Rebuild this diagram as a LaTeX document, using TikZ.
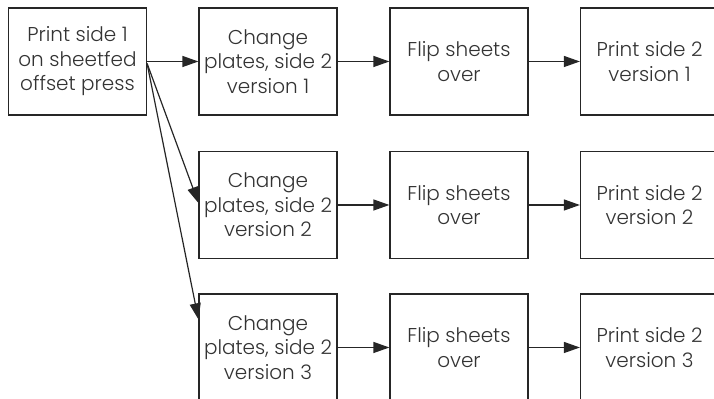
\documentclass[tikz,border=0pt]{standalone}
\usepackage{fontspec}
\setmainfont{Poppins}[UprightFont=* Light]
\usetikzlibrary{arrows.meta,calc}
\begin{document}
\begin{tikzpicture}[x=0.5pt,y=-0.5pt,
    caixa/.style={draw=black!85, line width=0.6pt, minimum width=69pt, minimum height=53.5pt,
      inner sep=0pt, align=center, text=black!80, font=\fontsize{10}{12.25}\selectfont},
    seta/.style={draw=black!85, line width=0.6pt, -{Triangle[length=8pt,width=5.5pt]}}]
  \useasboundingbox (0,0) rectangle (714,399);
  % Impressao do lado 1
  \node[caixa] (lado1) at (77.5,61.5) {Print side 1\\on sheetfed\\offset press};
  % Versao 1
  \node[caixa] (chapa1) at (268,61.5) {Change\\plates, side 2\\version 1};
  \node[caixa] (vira1) at (459,61.5) {Flip sheets\\over};
  \node[caixa] (lado2a) at (649.5,61.5) {Print side 2\\version 1};
  % Versao 2
  \node[caixa] (chapa2) at (268,205) {Change\\plates, side 2\\version 2};
  \node[caixa] (vira2) at (459,205) {Flip sheets\\over};
  \node[caixa] (lado2b) at (649.5,205) {Print side 2\\version 2};
  % Versao 3
  \node[caixa] (chapa3) at (268,347.5) {Change\\plates, side 2\\version 3};
  \node[caixa] (vira3) at (459,347.5) {Flip sheets\\over};
  \node[caixa] (lado2c) at (649.5,347.5) {Print side 2\\version 3};
  % Setas
  \draw[seta] (lado1.east) -- (chapa1.west);
  \draw[seta] ($(lado1.east)+(0,2)$) -- ($(chapa2.west)+(0,-2)$);
  \draw[seta] ($(lado1.east)+(0,2)$) -- ($(chapa3.north west)!0.24!(chapa3.south west)$);
  \draw[seta] (chapa1) -- (vira1);
  \draw[seta] (vira1) -- (lado2a);
  \draw[seta] (chapa2) -- (vira2);
  \draw[seta] (vira2) -- (lado2b);
  \draw[seta] (chapa3) -- (vira3);
  \draw[seta] (vira3) -- (lado2c);
\end{tikzpicture}
\end{document}
